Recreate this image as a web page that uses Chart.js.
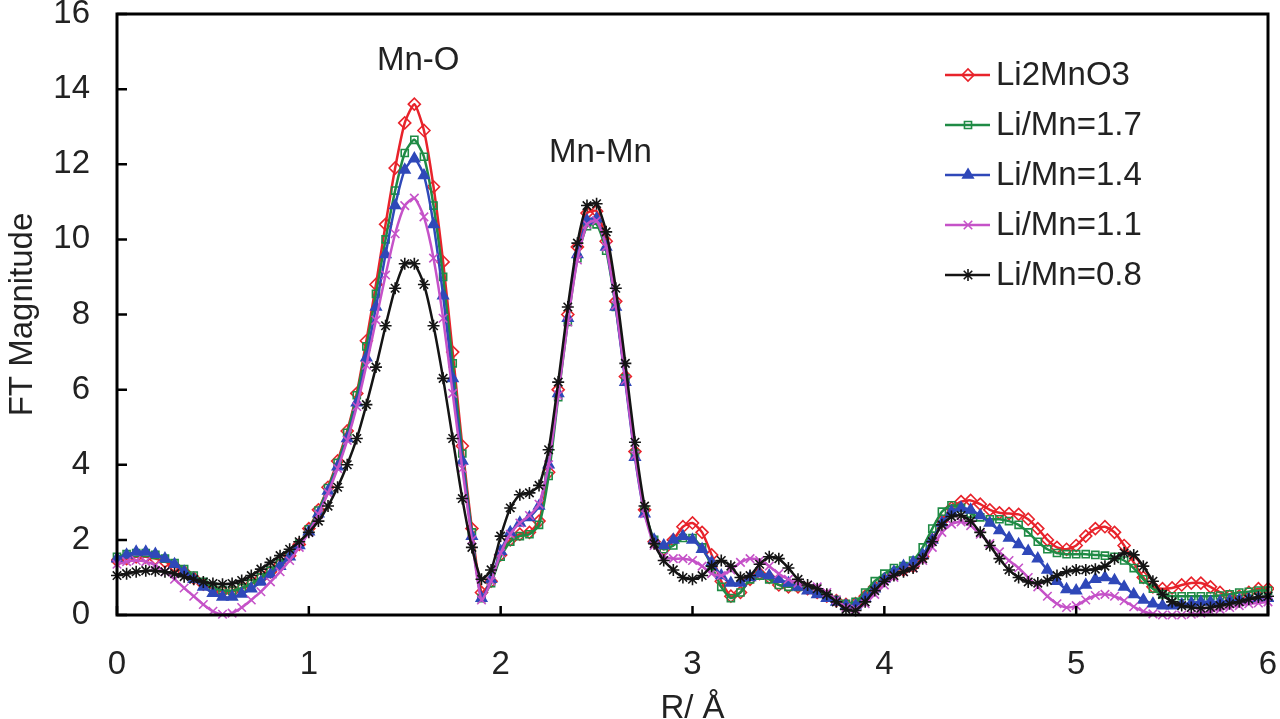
<!DOCTYPE html>
<html lang="en">
<head>
  <meta charset="UTF-8">
  <title>FT Magnitude</title>
  <script src="https://cdn.jsdelivr.net/npm/chart.js@4"></script>
  <style>
    html, body { margin: 0; padding: 0; background: #fff; }
    #wrap { width: 1280px; height: 719px; }
  </style>
</head>
<body>
  <div id="wrap"><canvas id="chart" width="1280" height="719"></canvas></div>
  <script>
    // R grid (Å)
    const rValues = [
      0.00,0.05,0.10,0.15,0.20,0.25,0.30,0.35,0.40,0.45,0.50,0.55,0.60,0.65,0.70,0.75,0.80,0.85,0.90,0.95,
      1.00,1.05,1.10,1.15,1.20,1.25,1.30,1.35,1.40,1.45,1.50,1.55,1.60,1.65,1.70,1.75,1.80,1.85,1.90,1.95,
      2.00,2.05,2.10,2.15,2.20,2.25,2.30,2.35,2.40,2.45,2.50,2.55,2.60,2.65,2.70,2.75,2.80,2.85,2.90,2.95,
      3.00,3.05,3.10,3.15,3.20,3.25,3.30,3.35,3.40,3.45,3.50,3.55,3.60,3.65,3.70,3.75,3.80,3.85,3.90,3.95,
      4.00,4.05,4.10,4.15,4.20,4.25,4.30,4.35,4.40,4.45,4.50,4.55,4.60,4.65,4.70,4.75,4.80,4.85,4.90,4.95,
      5.00,5.05,5.10,5.15,5.20,5.25,5.30,5.35,5.40,5.45,5.50,5.55,5.60,5.65,5.70,5.75,5.80,5.85,5.90,5.95,
      6.00
    ];

    const li2mno3 = [
      1.45,1.50,1.55,1.55,1.50,1.42,1.30,1.15,0.98,0.82,0.70,0.62,0.62,0.70,0.82,0.98,1.15,1.35,1.58,1.88,
      2.30,2.80,3.40,4.10,4.90,5.90,7.30,8.80,10.40,11.90,13.10,13.60,12.90,11.40,9.40,7.00,4.50,2.30,0.60,0.90,
      1.60,2.00,2.15,2.20,2.50,3.80,6.00,8.00,9.80,10.70,10.75,9.95,8.35,6.35,4.35,2.80,1.95,1.75,2.00,2.35,
      2.45,2.20,1.60,0.90,0.50,0.60,0.95,1.10,1.00,0.80,0.75,0.75,0.70,0.60,0.50,0.38,0.28,0.30,0.50,0.75,
      0.95,1.10,1.20,1.30,1.55,2.00,2.50,2.85,3.02,3.05,2.95,2.80,2.72,2.70,2.68,2.55,2.30,2.00,1.80,1.75,
      1.85,2.10,2.30,2.35,2.20,1.85,1.40,1.00,0.75,0.70,0.72,0.80,0.85,0.85,0.75,0.60,0.50,0.50,0.60,0.70,
      0.70
    ];
    const liMn17 = [
      1.55,1.62,1.65,1.65,1.60,1.50,1.38,1.22,1.05,0.88,0.75,0.66,0.65,0.72,0.84,1.00,1.18,1.38,1.60,1.90,
      2.28,2.78,3.38,4.05,4.85,5.85,7.15,8.55,10.00,11.30,12.30,12.65,12.20,10.90,9.00,6.70,4.30,2.20,0.45,0.85,
      1.55,1.95,2.10,2.15,2.40,3.70,5.80,7.80,9.50,10.35,10.40,9.70,8.20,6.30,4.30,2.80,2.00,1.75,1.85,2.05,
      2.05,1.80,1.30,0.75,0.45,0.60,0.95,1.05,0.95,0.80,0.75,0.75,0.70,0.60,0.50,0.40,0.30,0.35,0.60,0.90,
      1.10,1.25,1.30,1.45,1.80,2.30,2.75,2.92,2.85,2.70,2.60,2.55,2.55,2.50,2.40,2.20,1.95,1.75,1.65,1.62,
      1.62,1.62,1.60,1.58,1.55,1.45,1.25,0.95,0.70,0.55,0.50,0.50,0.50,0.50,0.50,0.52,0.55,0.60,0.62,0.65,
      0.65
    ];
    const liMn14 = [
      1.50,1.60,1.68,1.68,1.62,1.50,1.35,1.15,0.95,0.75,0.58,0.48,0.48,0.56,0.70,0.88,1.08,1.30,1.55,1.85,
      2.22,2.70,3.30,3.95,4.70,5.65,6.85,8.20,9.60,10.90,11.85,12.15,11.70,10.40,8.50,6.30,4.10,2.10,0.45,0.95,
      1.70,2.20,2.45,2.60,2.90,4.00,5.90,7.90,9.60,10.50,10.55,9.80,8.20,6.20,4.20,2.70,2.00,1.85,2.00,2.10,
      2.00,1.75,1.40,1.05,0.85,0.85,1.00,1.10,1.05,0.95,0.85,0.75,0.65,0.55,0.45,0.35,0.25,0.25,0.45,0.70,
      0.95,1.15,1.30,1.40,1.60,2.00,2.45,2.75,2.85,2.80,2.65,2.45,2.25,2.05,1.88,1.70,1.50,1.20,0.90,0.68,
      0.65,0.80,0.95,1.00,0.92,0.75,0.55,0.40,0.30,0.25,0.25,0.28,0.32,0.35,0.35,0.35,0.38,0.40,0.42,0.45,
      0.45
    ];
    const liMn11 = [
      1.35,1.42,1.45,1.42,1.32,1.15,0.95,0.72,0.50,0.28,0.10,0.02,0.05,0.20,0.40,0.62,0.88,1.15,1.45,1.80,
      2.20,2.68,3.25,3.90,4.65,5.55,6.65,7.85,9.05,10.15,10.90,11.10,10.60,9.50,7.90,5.90,3.90,2.00,0.40,0.90,
      1.65,2.15,2.45,2.65,2.95,4.00,5.85,7.80,9.45,10.40,10.50,9.80,8.25,6.25,4.25,2.70,1.85,1.55,1.50,1.50,
      1.45,1.30,1.10,1.05,1.20,1.40,1.50,1.45,1.30,1.10,0.95,0.85,0.80,0.75,0.60,0.40,0.20,0.15,0.30,0.55,
      0.80,1.00,1.15,1.25,1.45,1.80,2.20,2.42,2.48,2.38,2.15,1.90,1.68,1.45,1.25,1.00,0.75,0.50,0.30,0.20,
      0.25,0.40,0.52,0.55,0.50,0.38,0.22,0.10,0.03,0.00,0.00,0.00,0.02,0.05,0.10,0.15,0.20,0.25,0.30,0.32,
      0.35
    ];
    const liMn08 = [
      1.05,1.10,1.15,1.18,1.18,1.15,1.10,1.02,0.95,0.88,0.84,0.82,0.84,0.92,1.05,1.22,1.40,1.58,1.75,1.95,
      2.20,2.50,2.90,3.40,4.00,4.70,5.60,6.60,7.70,8.70,9.35,9.35,8.80,7.70,6.30,4.70,3.10,1.80,0.95,1.20,
      2.10,2.85,3.20,3.25,3.45,4.40,6.20,8.20,9.90,10.90,10.95,10.20,8.70,6.70,4.60,2.90,1.90,1.45,1.20,1.00,
      0.95,1.05,1.30,1.45,1.30,1.00,1.05,1.35,1.55,1.50,1.25,0.95,0.80,0.70,0.55,0.35,0.15,0.12,0.35,0.65,
      0.90,1.05,1.15,1.25,1.50,1.95,2.40,2.62,2.65,2.50,2.20,1.85,1.50,1.20,1.00,0.88,0.85,0.92,1.05,1.15,
      1.20,1.20,1.22,1.30,1.50,1.65,1.60,1.30,0.90,0.55,0.35,0.25,0.20,0.18,0.20,0.25,0.30,0.35,0.42,0.48,
      0.50
    ];

    const seriesNames = ['Li2MnO3', 'Li/Mn=1.7', 'Li/Mn=1.4', 'Li/Mn=1.1', 'Li/Mn=0.8'];
    const seriesValues = [li2mno3, liMn17, liMn14, liMn11, liMn08];
    const seriesColors = ['#e8232b', '#1f8b45', '#2f48b9', '#c552c8', '#141414'];
    const seriesMarkers = ['rectRot', 'rect', 'triangle', 'crossRot', 'star'];
    const seriesFilled = [false, false, true, false, false];

    const xTicks = [0, 1, 2, 3, 4, 5, 6];
    const yTicks = [0, 2, 4, 6, 8, 10, 12, 14, 16];

    const FONT = '"Liberation Sans", Arial, sans-serif';
    const TXT = '#222';

    const datasets = seriesValues.map((vals, i) => ({
      label: seriesNames[i],
      data: rValues.map((r, j) => ({ x: r, y: vals[j] })),
      borderColor: seriesColors[i],
      borderWidth: 2.5,
      pointStyle: seriesMarkers[i],
      pointRadius: seriesMarkers[i] === 'rect' ? 5 : 6,
      pointBorderWidth: 1.6,
      pointBorderColor: seriesColors[i],
      pointBackgroundColor: seriesFilled[i] ? seriesColors[i] : 'rgba(0,0,0,0)',
      tension: 0.2,
      fill: false,
      clip: 6,
      order: 5 - i
    }));

    // frame, inward ticks, legend and peak labels
    const decor = {
      id: 'decor',
      afterDatasetsDraw(chart) {
        const { ctx, chartArea: a, scales: { x, y } } = chart;
        ctx.save();
        ctx.strokeStyle = '#000';
        ctx.lineWidth = 3;
        ctx.strokeRect(a.left, a.top, a.right - a.left, a.bottom - a.top);
        ctx.lineWidth = 2.5;
        ctx.beginPath();
        xTicks.forEach(v => {
          const px = x.getPixelForValue(v);
          ctx.moveTo(px, a.bottom); ctx.lineTo(px, a.bottom - 9);
        });
        yTicks.forEach(v => {
          const py = y.getPixelForValue(v);
          ctx.moveTo(a.left, py); ctx.lineTo(a.left + 10, py);
        });
        ctx.stroke();

        // peak labels
        ctx.fillStyle = TXT;
        ctx.font = '33px ' + FONT;
        ctx.textAlign = 'center';
        ctx.textBaseline = 'middle';
        ctx.fillText('Mn-O', x.getPixelForValue(1.57), y.getPixelForValue(14.75));
        ctx.fillText('Mn-Mn', x.getPixelForValue(2.52), y.getPixelForValue(12.3));

        // legend
        const lx = a.left + 828, ty = a.top + 61, rowH = 50;
        chart.data.datasets.forEach((ds, i) => {
          const cy = ty + i * rowH;
          ctx.strokeStyle = ds.borderColor;
          ctx.lineWidth = 2.5;
          ctx.beginPath();
          ctx.moveTo(lx, cy); ctx.lineTo(lx + 45, cy);
          ctx.stroke();
          ctx.fillStyle = ds.pointBackgroundColor;
          ctx.lineWidth = 1.6;
          Chart.helpers.drawPoint(ctx, { pointStyle: ds.pointStyle, radius: ds.pointRadius, borderWidth: 1.6, rotation: 0 }, lx + 23, cy);
          ctx.fillStyle = TXT;
          ctx.textAlign = 'left';
          ctx.fillText(ds.label, lx + 51, cy + 1);
        });
        ctx.restore();
      }
    };

    new Chart(document.getElementById('chart'), {
      type: 'line',
      data: { datasets },
      options: {
        responsive: false,
        animation: false,
        layout: { padding: { left: 0, right: 12, top: 14, bottom: 0 } },
        plugins: { legend: { display: false }, tooltip: { enabled: false } },
        scales: {
          x: {
            type: 'linear', min: 0, max: 6,
            afterBuildTicks: s => { s.ticks = xTicks.map(v => ({ value: v })); },
            afterFit: s => { s.height = 104; s.paddingLeft = 0; s.paddingRight = 0; },
            grid: { display: false, drawTicks: false },
            border: { display: false },
            ticks: { color: TXT, font: { size: 33, family: FONT }, padding: 30, maxRotation: 0 },
            title: {
              display: true, text: 'R/ Å', color: TXT,
              font: { size: 33, family: FONT, lineHeight: 1 },
              padding: { top: 0, bottom: -6 }
            }
          },
          y: {
            min: 0, max: 16,
            afterBuildTicks: s => { s.ticks = yTicks.map(v => ({ value: v })); },
            afterFit: s => { s.width = 117; s.paddingTop = 0; s.paddingBottom = 0; },
            grid: { display: false, drawTicks: false },
            border: { display: false },
            ticks: { color: TXT, font: { size: 33, family: FONT }, padding: 27 },
            title: {
              display: true, text: 'FT Magnitude', color: TXT,
              font: { size: 33, family: FONT, lineHeight: 1 },
              padding: { top: 6, bottom: 0 }
            }
          }
        }
      },
      plugins: [decor]
    });
  </script>
</body>
</html>
